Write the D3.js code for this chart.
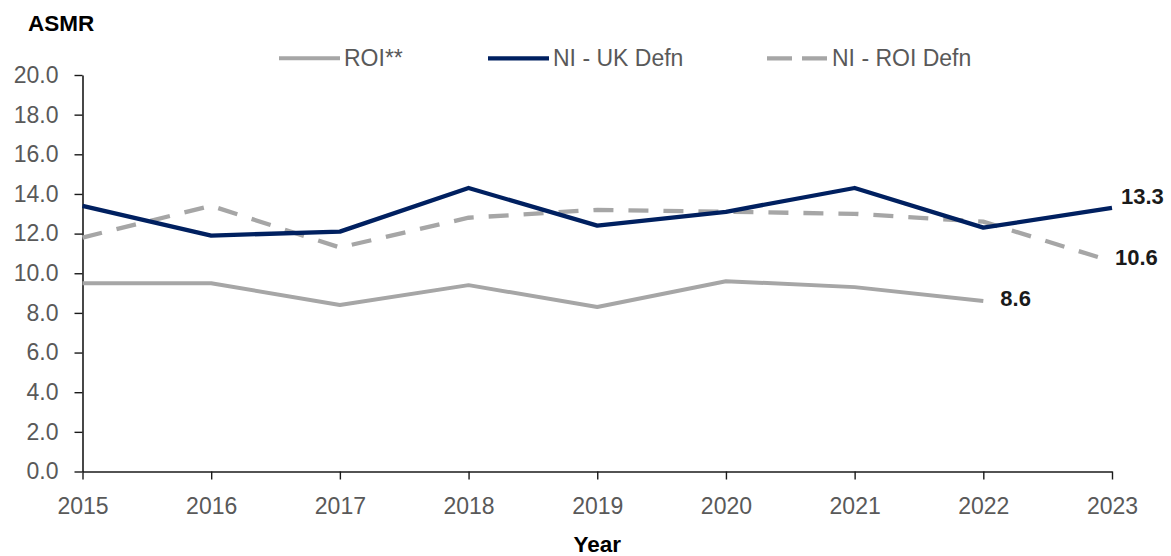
<!DOCTYPE html>
<html>
<head>
<meta charset="utf-8">
<script src="https://cdn.jsdelivr.net/npm/d3@7"></script>
<style>
  html, body { margin: 0; padding: 0; background: #fff; }
  svg { display: block; font-family: "Liberation Sans", Arial, sans-serif; }
</style>
</head>
<body>
<svg id="chart" width="1171" height="556"></svg>
<script>
const years = [2015, 2016, 2017, 2018, 2019, 2020, 2021, 2022, 2023];
const roiYears = [2015, 2016, 2017, 2018, 2019, 2020, 2021, 2022];
const roiValues = [9.5, 9.5, 8.4, 9.4, 8.3, 9.6, 9.3, 8.6];
const niUkValues = [13.4, 11.9, 12.1, 14.3, 12.4, 13.1, 14.3, 12.3, 13.3];
const niRoiValues = [11.8, 13.4, 11.3, 12.8, 13.2, 13.1, 13.0, 12.6, 10.6];
const yTicks = [0, 2, 4, 6, 8, 10, 12, 14, 16, 18, 20];
const seriesNames = ["ROI**", "NI - UK Defn", "NI - ROI Defn"];

const svg = d3.select("#chart");
const x = d3.scaleLinear().domain([2015, 2023]).range([82.5, 1112]);
const y = d3.scaleLinear().domain([0, 20]).range([471.5, 75]);

const grey = "#A6A6A6", navy = "#002060", axisCol = "#1a1a1a", tickTxt = "#595959";

// Y axis
const yAxis = svg.append("g").attr("transform", `translate(${x(2015)},0)`)
  .call(d3.axisLeft(y).tickValues(yTicks).tickFormat(d3.format(".1f")).tickSize(8).tickSizeOuter(0).tickPadding(16));
// X axis
const xAxis = svg.append("g").attr("transform", `translate(0,${y(0)})`)
  .call(d3.axisBottom(x).tickValues(years).tickFormat(d3.format("d")).tickSize(8).tickSizeOuter(0).tickPadding(18));
[yAxis, xAxis].forEach(g => {
  g.selectAll("path.domain").attr("stroke", axisCol).attr("stroke-width", 1.6);
  g.selectAll(".tick line").attr("stroke", axisCol).attr("stroke-width", 1.4);
  g.selectAll(".tick text").attr("fill", tickTxt).style("font-size", "23px").style("font-family", "'Liberation Sans', Arial, sans-serif");
});

// Lines
const line = d3.line().x(d => x(d[0])).y(d => y(d[1]));
svg.append("path").datum(roiYears.map((yr, i) => [yr, roiValues[i]]))
  .attr("d", line).attr("fill", "none").attr("stroke", grey).attr("stroke-width", 4).attr("stroke-linejoin", "round");
svg.append("path").datum(years.map((yr, i) => [yr, niRoiValues[i]]))
  .attr("d", line).attr("fill", "none").attr("stroke", grey).attr("stroke-width", 4.3)
  .attr("stroke-dasharray", "20 15");
svg.append("path").datum(years.map((yr, i) => [yr, niUkValues[i]]))
  .attr("d", line).attr("fill", "none").attr("stroke", navy).attr("stroke-width", 4.3).attr("stroke-linejoin", "round");

// End labels
const lblStyle = s => s.attr("font-weight", "bold").attr("font-size", "22px").attr("fill", "#1a1a1a").attr("dy", "0.35em");
svg.append("text").attr("x", x(2023) + 9).attr("y", y(niUkValues[8]) - 12).text(niUkValues[8].toFixed(1)).call(lblStyle);
svg.append("text").attr("x", x(2023) + 3).attr("y", y(niRoiValues[8]) - 4.5).text(niRoiValues[8].toFixed(1)).call(lblStyle);
svg.append("text").attr("x", x(2022) + 17).attr("y", y(roiValues[7]) - 3).text(roiValues[7].toFixed(1)).call(lblStyle);

// Titles
svg.append("text").attr("x", 28).attr("y", 31).text("ASMR")
  .attr("font-weight", "bold").attr("font-size", "22.5px").attr("fill", "#000");
svg.append("text").attr("x", (x(2015) + x(2023)) / 2).attr("y", 552).attr("text-anchor", "middle").text("Year")
  .attr("font-weight", "bold").attr("font-size", "22.5px").attr("fill", "#000");

// Legend
const legend = [
  { name: seriesNames[0], x0: 279, x1: 340, tx: 344, color: grey, dash: null, w: 4 },
  { name: seriesNames[1], x0: 488, x1: 549, tx: 553, color: navy, dash: null, w: 4.3 },
  { name: seriesNames[2], x0: 767, x1: 828, tx: 832, color: grey, dash: "25 10", w: 4.3 }
];
const ly = 58.3;
legend.forEach(l => {
  const ln = svg.append("line").attr("x1", l.x0).attr("x2", l.x1).attr("y1", ly).attr("y2", ly)
    .attr("stroke", l.color).attr("stroke-width", l.w);
  if (l.dash) ln.attr("stroke-dasharray", l.dash);
  svg.append("text").attr("x", l.tx).attr("y", ly).attr("dy", "0.35em").text(l.name)
    .attr("font-size", "23px").attr("fill", tickTxt);
});
</script>
</body>
</html>
